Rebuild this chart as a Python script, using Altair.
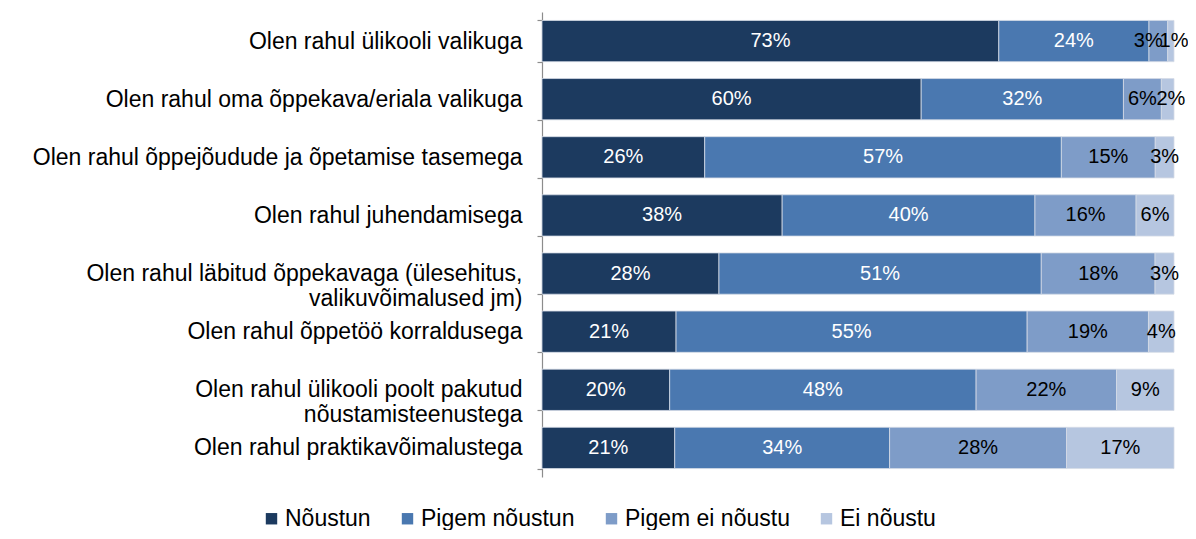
import altair as alt
import pandas as pd

categories = [
    "Olen rahul ülikooli valikuga",
    "Olen rahul oma õppekava/eriala valikuga",
    "Olen rahul õppejõudude ja õpetamise tasemega",
    "Olen rahul juhendamisega",
    "Olen rahul läbitud õppekavaga (ülesehitus,\nvalikuvõimalused jm)",
    "Olen rahul õppetöö korraldusega",
    "Olen rahul ülikooli poolt pakutud\nnõustamisteenustega",
    "Olen rahul praktikavõimalustega",
]
series = ["Nõustun", "Pigem nõustun", "Pigem ei nõustu", "Ei nõustu"]
colors = ["#1C3A5F", "#4A78B0", "#7E9CC8", "#B6C6E0"]

noustun = [73, 60, 26, 38, 28, 21, 20, 21]
pigem_noustun = [24, 32, 57, 40, 51, 55, 48, 34]
pigem_ei = [3, 6, 15, 16, 18, 19, 22, 28]
ei_noustu = [1, 2, 3, 6, 3, 4, 9, 17]

values = [noustun, pigem_noustun, pigem_ei, ei_noustu]
rows = []
for si, (s, vals) in enumerate(zip(series, values)):
    for ci, c in enumerate(categories):
        rows.append({"cat": c, "series": s, "order": si, "value": vals[ci],
                     "label": f"{vals[ci]}%"})
df = pd.DataFrame(rows)

font = "Liberation Sans"

base = alt.Chart(df).transform_stack(
    stack="value", groupby=["cat"], sort=[alt.SortField("order")],
    as_=["x0", "x1"], offset="normalize"
).transform_calculate(
    mid="(datum.x0 + datum.x1) / 2 + (datum.order == 3 && datum.value <= 2 ? 0.005 : 0)"
        " - (datum.order == 2 && datum.value <= 3 ? 0.016 : 0)"
)

y_enc = alt.Y("cat:N", sort=categories, title=None,
              scale=alt.Scale(paddingInner=0.29, paddingOuter=0.145),
              axis=alt.Axis(labelExpr="split(datum.label, '\\n')",
                            labelFont=font, labelFontSize=23, labelColor="#000000",
                            labelLineHeight=25, labelPadding=15, labelLimit=0,
                            domainColor="#8c8c8c", tickColor="#8c8c8c",
                            tickBand="extent", tickSize=5, domainWidth=1.2, tickWidth=1.2))

bars = base.mark_bar(stroke="#d4dbe6", strokeWidth=0.8).encode(
    x=alt.X("x0:Q", scale=alt.Scale(domain=[0, 1]), axis=None),
    x2="x1:Q",
    y=y_enc,
    color=alt.Color("series:N", sort=series,
                    scale=alt.Scale(domain=series, range=colors),
                    legend=alt.Legend(title=None, orient="none", direction="horizontal",
                                      legendX=-282, legendY=495,
                                      symbolType="square", symbolSize=130,
                                      symbolStrokeWidth=0, labelLimit=0,
                                      labelFont=font, labelFontSize=23, labelColor="#000000",
                                      columnPadding=25, labelOffset=2)),
)

texts = base.mark_text(font=font, fontSize=20).encode(
    x=alt.X("mid:Q"),
    y=alt.Y("cat:N", sort=categories),
    text="label:N",
    color=alt.condition("datum.order < 2", alt.value("#ffffff"), alt.value("#000000")),
)

chart = (bars + texts).properties(
    width=632, height=465,
    autosize=alt.AutoSizeParams(type="none"),
    padding={"top": 4, "left": 534, "right": 14, "bottom": 53},
).configure_view(stroke=None)

chart.save("out.html", embed_options={"renderer": "svg", "actions": False})
